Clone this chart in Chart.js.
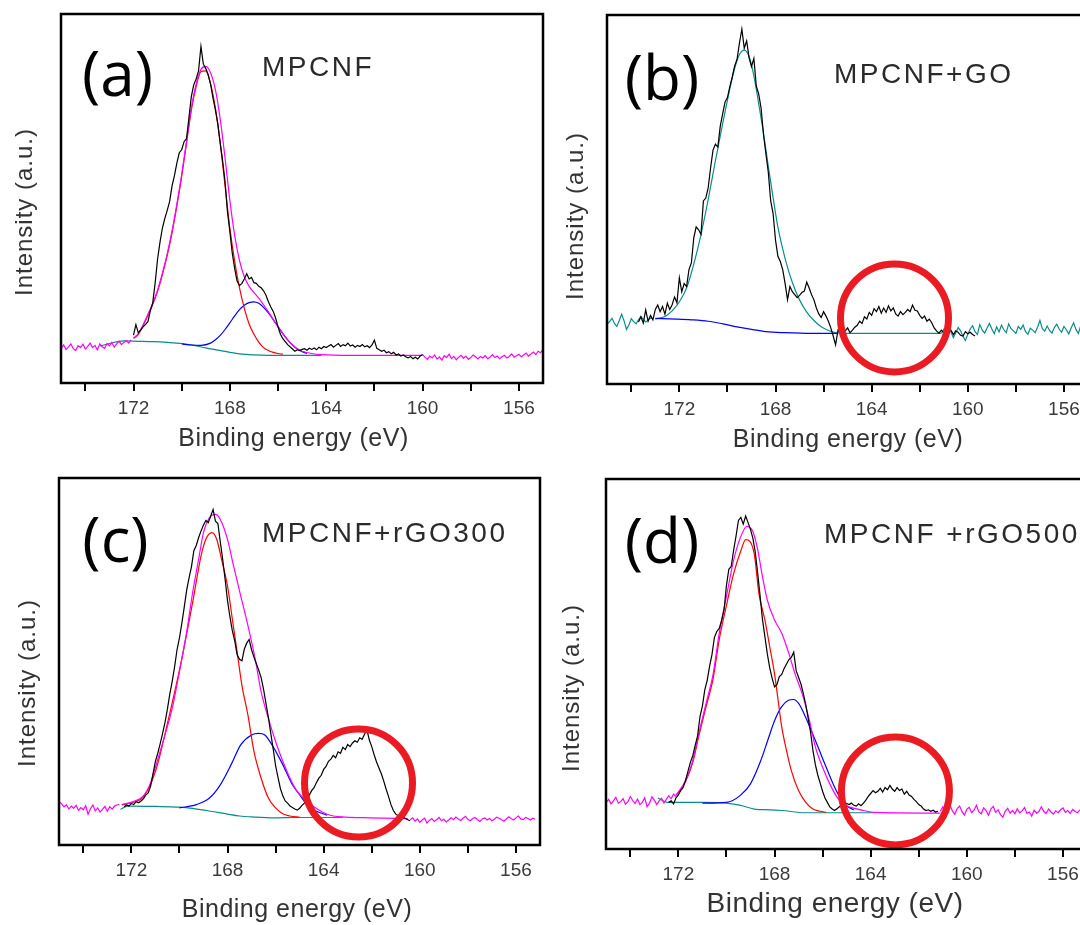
<!DOCTYPE html>
<html><head><meta charset="utf-8">
<script src="https://cdn.jsdelivr.net/npm/chart.js@4.4.1/dist/chart.umd.min.js"></script>
<style>
html,body{margin:0;padding:0;background:#fff;width:1080px;height:925px;overflow:hidden;position:relative}
canvas{position:absolute}
</style>
</head><body>
<canvas id="pa"></canvas><canvas id="pb"></canvas><canvas id="pc"></canvas><canvas id="pd"></canvas>
<script>
// ---------- DATA (binding energy in eV, intensity in a.u. 0-100 of the frame) ----------
const STEP = 0.1;
const xTickValuesLabelled = [172, 168, 164, 160, 156];

// Panel (a) MPCNF
const aBgLStart = 175.0;
const aBgL = [9.4,10.3,9.1,9.8,10.6,9.3,8.8,10.1,9.6,10.5,9.2,9.9,10.8,9.6,10.2,9.0,10.6,9.8,9.4,10.7,10.1,11.0,9.7,10.6,11.3,10.4,11.0,11.5,10.8,11.7];
const aRawStart = 172.0;
const aRaw = [13.0,15.8,13.6,14.4,15.2,15.9,16.6,19.6,21.8,27.2,
33.6,38.2,42.0,44.6,46.8,49.2,53.4,56.2,59.6,62.4,
63.2,65.4,66.2,71.8,77.6,80.8,82.4,84.6,91.2,86.4,
85.2,83.6,81.0,77.2,74.0,70.2,65.0,60.2,54.6,46.4,
41.0,35.2,31.0,27.6,26.4,27.0,28.2,29.6,28.2,28.6,
27.2,27.0,26.2,25.8,25.0,23.8,22.0,20.6,19.4,17.6,
15.2,13.2,12.0,11.2,10.4,9.8,9.2,8.6,9.0,8.8,
9.1,9.3,8.9,9.4,9.1,9.5,9.0,9.7,9.3,9.9,
9.6,10.0,10.4,9.7,10.2,10.7,9.9,10.4,10.1,10.8,
10.0,10.3,9.7,10.2,9.9,10.4,9.8,10.1,9.6,10.3,
11.6,9.4,9.0,8.6,8.9,8.2,8.5,7.9,8.3,7.6,
7.9,7.3,7.6,7.1,6.8,7.2,6.6,7.0,6.5,7.3,
7.7];
const aBgRStart = 160.0;
const aBgR = [7.7,7.0,6.4,7.3,6.8,7.6,6.5,7.1,6.2,7.4,6.9,7.8,6.6,7.2,6.3,7.0,7.5,6.7,7.3,6.4,6.9,7.6,7.1,6.5,7.2,6.8,7.4,6.6,7.0,7.7,6.9,7.3,6.6,7.1,7.5,6.8,7.2,7.9,7.0,7.4,7.8,7.1,7.6,8.1,7.3,7.9,8.4,7.7,8.6,8.2,9.1];
const aFitX = [172.0,171.8,171.6,171.4,171.2,171.0,170.8,170.6,170.4,170.2,170.0,169.8,169.6,169.4,169.2,169.0,168.8,168.6,168.4,168.2,168.0,167.8,167.6,167.4,167.2,167.0,166.8,166.6,166.4,166.2,166.0,165.8,165.6,165.4,165.2,165.0,164.6,164.2,163.0,160.0];
const aFitY = [12.2,13.4,15.8,18.6,21.6,25.2,29.8,35.0,41.2,48.5,56.5,65.5,74.5,81.0,85.0,85.8,84.0,79.5,71.5,61.0,49.5,40.0,33.2,28.8,26.2,24.5,23.0,21.2,19.3,17.2,15.2,13.3,11.7,10.3,9.3,8.6,8.0,7.7,7.5,7.5];
const aRedX = [172.0,171.8,171.6,171.4,171.2,171.0,170.8,170.6,170.4,170.2,170.0,169.8,169.6,169.4,169.2,169.0,168.8,168.6,168.4,168.2,168.0,167.8,167.6,167.4,167.2,167.0,166.8,166.6,166.4,166.2,166.0,165.8];
const aRedY = [12.1,13.2,15.6,18.3,21.3,24.9,29.4,34.6,40.7,48.0,56.0,65.0,73.9,80.3,84.4,84.6,81.0,74.5,65.0,53.5,42.0,33.0,25.8,20.3,16.0,13.2,11.1,9.6,8.8,8.3,8.0,7.8];
const aBlueX = [170.0,169.6,169.2,168.8,168.6,168.4,168.2,168.0,167.8,167.6,167.4,167.2,167.0,166.8,166.6,166.4,166.2,166.0,165.8,165.6,165.4,165.2,165.0,164.8];
const aBlueY = [10.6,10.3,10.2,10.8,11.7,12.9,14.5,16.3,18.2,19.9,21.1,21.8,22.0,21.6,20.5,19.0,17.2,15.3,13.4,11.7,10.3,9.2,8.5,8.0];
const aTealX = [173.4,173.0,172.4,171.8,171.2,170.6,170.0,169.5,169.0,168.5,168.0,167.5,167.0,166.4,165.6,164.8,164.2];
const aTealY = [10.0,10.7,11.4,11.3,11.2,11.0,10.7,10.2,9.5,8.9,8.3,7.8,7.6,7.5,7.5,7.5,7.5];

// Panel (b) MPCNF+GO
const bBgLStart = 175.0;
const bBgL = [16.2,17.0,17.8,16.4,15.6,17.2,18.9,17.1,14.8,16.0,17.7,16.9,16.3,17.4,18.3,17.5,16.8,17.3,17.9,17.6];
const bRawStart = 173.7;
const bRaw = [16.8,18.2,16.5,20.1,17.0,18.6,17.4,20.2,21.4,19.6,
21.0,18.9,21.9,20.2,21.5,23.6,22.0,28.8,25.0,27.2,
26.4,31.0,32.8,39.6,42.6,41.8,40.6,49.6,50.4,53.2,
58.6,63.4,65.0,64.2,69.8,73.2,76.4,77.6,80.6,83.2,
86.2,88.0,92.4,96.2,91.0,93.0,88.4,86.0,88.2,80.8,
78.6,74.8,67.6,62.4,57.4,49.6,46.2,39.0,34.6,33.2,
31.0,27.2,22.8,26.4,25.0,24.2,23.4,24.0,24.8,25.2,
27.6,26.0,24.2,22.8,20.6,19.0,18.0,19.6,18.4,17.0,
15.2,13.0,10.6,14.6,13.8,15.0,14.4,15.2,13.9,14.6,
15.4,15.9,17.0,16.4,18.2,17.6,19.4,18.6,20.4,19.6,
21.0,19.2,20.6,19.4,21.2,19.8,20.6,19.0,18.4,19.6,
18.8,19.4,20.2,19.6,21.4,20.0,19.8,18.6,17.8,18.4,
17.0,17.6,16.6,15.2,14.4,13.8,14.6,13.9,14.2,15.0,
14.6,13.4,14.4,14.0,13.2,13.0,14.2,13.6,14.0,13.4,
13.0];
const bBgRStart = 161.1;
const bBgR = [13.7,14.8,13.2,15.1,14.0,12.6,13.9,15.3,14.4,12.9,11.8,13.5,14.9,15.8,14.2,13.4,16.1,14.6,13.8,15.2,16.4,14.9,13.6,15.5,14.1,15.9,14.7,13.9,16.3,15.0,14.4,13.7,15.6,14.8,16.0,14.2,13.5,15.1,14.6,13.9,15.4,17.2,15.0,14.3,15.7,14.5,13.8,15.3,16.2,14.9,14.0,15.6,14.7,13.6,15.2,16.6,14.8,13.7,15.9,14.5,12.4,14.0];
const bFitX = [173.0,172.6,172.3,172.0,171.7,171.4,171.1,170.8,170.5,170.2,169.9,169.7,169.5,169.3,169.1,168.9,168.7,168.5,168.3,168.1,167.9,167.6,167.3,167.0,166.7,166.4,166.1,165.8,165.5,165.2,161.1];
const bFitY = [17.6,18.3,19.8,22.3,26.0,32.5,40.5,50.0,60.5,70.5,80.0,85.5,89.3,90.5,88.8,83.5,76.0,68.0,59.0,50.5,42.5,34.0,27.5,22.8,19.5,17.2,15.5,14.5,13.9,13.7,13.7];
const bBlueX = [173.0,172.1,171.5,170.8,170.2,169.6,169.0,168.4,167.6,166.5,165.4];
const bBlueY = [17.8,17.6,17.4,17.0,16.3,15.5,14.8,14.2,13.9,13.7,13.7];
const bCircle = [163.05, 17.9];

// Panel (c) MPCNF+rGO300
const cBgLStart = 175.0;
const cBgL = [11.8,11.2,10.4,10.9,9.8,10.6,10.0,10.8,9.4,10.2,9.6,10.7,8.4,9.9,10.9,9.3,10.1,9.0,9.7,10.5,9.2,10.4,9.8,10.6,10.9,11.1];
const cRawStart = 172.3;
const cRaw = [10.4,10.9,10.6,11.3,11.0,11.8,11.5,12.0,12.6,13.6,
14.2,16.0,19.4,22.8,25.0,27.6,30.4,33.4,37.0,41.2,
44.6,48.6,53.2,56.4,60.4,64.8,69.4,72.8,75.8,80.2,
81.6,83.8,85.6,87.2,88.4,87.8,89.6,91.4,88.2,87.6,
82.6,77.8,72.4,66.6,62.2,58.4,55.6,51.8,50.6,50.2,
53.4,55.0,56.0,53.2,51.2,49.4,47.6,45.6,42.4,38.6,
34.8,30.4,26.2,21.6,18.4,15.4,13.4,12.0,11.4,10.6,
10.2,9.8,9.5,10.0,10.8,11.4,12.4,13.6,14.8,15.6,
17.0,18.2,19.0,20.6,21.4,22.8,23.4,24.4,23.8,25.4,
25.0,26.6,26.0,27.4,26.8,27.8,28.4,28.0,29.2,28.8,
30.2,31.4,28.6,26.8,24.6,22.6,21.0,19.4,17.4,15.2,
13.2,11.0,9.4,8.4,8.0,7.6,7.8,7.2,6.9,6.6];
const cBgRStart = 160.4;
const cBgR = [6.9,7.4,6.5,7.1,6.2,6.8,7.3,6.0,6.7,7.2,6.4,6.9,7.5,6.6,7.0,6.3,6.8,7.4,6.9,7.6,7.1,6.7,7.3,7.8,7.0,6.6,7.2,7.5,6.9,6.4,7.1,7.4,6.8,7.2,6.6,7.0,7.6,7.3,6.9,6.5,7.1,7.7,7.2,6.8,7.4,7.9,7.1,6.9,7.5,7.2,6.8,7.3,7.0];
const cFitX = [172.4,171.9,171.5,171.2,170.9,170.6,170.3,170.0,169.7,169.45,169.2,169.0,168.75,168.5,168.3,168.0,167.75,167.45,167.15,166.85,166.6,166.3,166.0,165.7,165.4,165.15,164.85,164.45,164.0,163.6,163.1,162.1,160.5];
const cFitY = [11.0,11.9,13.4,17.0,23.4,30.0,37.2,47.2,58.0,68.8,77.9,85.1,89.2,90.1,88.7,83.3,76.1,67.9,59.8,50.8,41.7,34.5,28.2,22.8,18.2,15.1,12.8,10.6,8.8,7.9,7.6,7.4,7.2];
const cRedX = [172.4,171.9,171.5,171.0,170.45,169.9,169.45,169.1,168.9,168.65,168.45,168.25,168.0,167.8,167.6,167.4,167.15,166.9,166.6,166.3,166.0,165.7,165.4,165.0];
const cRedY = [10.9,11.7,13.1,20.0,34.5,50.8,66.1,78.8,83.3,85.1,83.3,77.9,70.6,61.6,52.6,43.5,35.4,25.5,18.2,12.8,10.1,8.5,7.9,7.6];
const cBlueX = [170.0,169.3,168.75,168.3,167.85,167.45,167.0,166.7,166.45,166.15,165.7,165.3,165.0,164.7,164.3,163.85];
const cBlueY = [10.1,11.0,12.8,16.4,21.9,27.3,30.0,30.4,30.0,27.3,21.9,16.4,13.7,11.0,9.2,8.1];
const cTealX = [172.45,172.15,171.0,170.0,169.4,168.7,168.0,167.5,166.8,166.2,165.0,163.2];
const cTealY = [9.7,10.6,10.5,10.3,9.9,9.2,8.4,7.9,7.6,7.4,7.5,7.5];
const cCircle = [162.55, 16.9];

// Panel (d) MPCNF +rGO500
const dBgLStart = 175.0;
const dBgL = [12.6,13.4,12.2,13.0,14.0,12.4,12.8,13.6,12.1,12.7,14.2,13.1,12.3,13.5,12.0,12.6,13.8,11.4,12.4,14.1,13.2,12.0,13.0,13.7,12.5,13.4,14.4,13.6,14.8,14.2];
const dRawStart = 172.4;
const dRaw = [12.6,13.0,12.2,13.8,14.6,15.8,16.6,18.6,21.0,23.4,
25.2,28.0,30.6,35.8,38.6,43.0,45.6,49.4,52.6,57.2,
58.8,59.6,61.8,64.6,71.2,75.6,76.4,80.8,84.6,88.8,
89.6,87.8,90.0,88.2,86.4,84.0,80.2,74.6,68.4,62.0,
57.4,52.8,49.0,46.2,43.8,44.4,46.6,47.2,48.8,50.0,
51.2,51.8,53.2,48.2,46.4,44.6,42.0,39.0,35.4,31.6,
26.6,22.8,20.0,17.8,15.6,13.8,12.6,11.4,10.8,10.4,
10.9,11.4,12.0,12.6,12.3,12.0,12.4,11.8,11.6,12.2,
11.7,12.4,13.2,14.2,15.0,15.8,15.2,15.6,16.4,15.4,
16.6,16.0,17.2,16.2,15.6,16.6,15.8,16.2,14.8,15.6,
14.6,14.2,13.4,12.8,12.0,11.6,10.8,10.4,10.6,10.2,
10.5,10.0,10.2];
const dBgRStart = 161.1;
const dBgR = [10.2,11.4,9.6,10.8,11.9,10.3,9.4,10.9,11.6,10.1,9.2,10.7,11.3,9.8,10.5,11.8,10.0,9.5,11.1,10.4,9.1,10.8,11.5,9.9,10.6,9.3,8.6,10.2,11.0,9.7,10.4,9.5,10.9,9.8,10.3,11.2,9.6,10.0,8.9,10.5,9.7,10.1,11.4,10.2,9.6,10.8,10.0,9.4,10.3,9.8,10.6,11.1,9.9,10.4,9.6,10.7,10.2,9.8,10.5,11.0,10.3,9.9];
const dFitX = [172.1,172.0,171.7,171.4,171.15,170.85,170.55,170.3,170.0,169.7,169.4,169.15,168.9,168.7,168.5,168.3,168.0,167.7,167.4,167.15,166.85,166.55,166.3,166.0,165.7,165.4,165.15,164.85,164.3,163.8,161.1];
const dFitY = [14.6,15.4,18.5,23.9,31.2,39.3,47.4,58.3,68.2,78.1,84.5,87.2,85.8,80.9,73.6,67.3,61.9,58.3,52.8,47.4,42.0,34.8,27.6,22.1,17.6,14.0,12.2,11.3,10.4,9.9,9.7];
const dRedX = [172.1,172.0,171.7,171.4,171.15,170.85,170.55,170.3,170.0,169.7,169.4,169.2,168.85,168.65,168.4,168.2,168.0,167.85,167.7,167.5,167.3,167.0,166.7,166.4,166.1,165.85];
const dRedY = [14.5,15.2,18.2,23.4,30.5,38.4,46.2,56.6,65.8,74.4,80.6,83.6,80.0,69.1,61.9,54.7,47.4,40.2,33.0,26.6,21.2,15.8,12.6,10.8,10.2,9.9];
const dBlueX = [171.0,170.0,169.42,169.0,168.57,168.28,167.99,167.71,167.42,167.21,166.99,166.71,166.42,166.13,165.85,165.56,165.28,165.0,164.7];
const dBlueY = [12.4,12.6,14.5,17.6,23.9,29.4,34.8,38.4,40.2,40.4,39.3,35.7,31.2,26.6,22.1,17.6,14.0,11.7,10.6];
const dTealX = [172.85,172.45,171.0,170.0,169.4,168.85,168.2,167.7,166.7,165.4,163.8];
const dTealY = [13.8,12.6,12.6,12.4,11.8,10.8,10.6,10.4,9.8,9.8,9.8];
const dCircle = [162.97, 15.7];

// ---------- helpers ----------
const seq = (start, vals) => vals.map((v, i) => ({x: Math.round((start - i * STEP) * 100) / 100, y: v}));
const pairs = (xs, ys) => xs.map((x, i) => ({x: x, y: ys[i]}));

const C = {black:'#000000', mag:'#ff00ff', red:'#ff0000', blue:'#0000ff', teal:'#0b8c8c', ring:'#ea1b22'};
function ln(data, color, smooth) {
  const d = {data, showLine:true, borderColor:color, backgroundColor:color, borderWidth:1.2, pointRadius:0, pointHoverRadius:0, fill:false, tension:0};
  if (smooth) d.cubicInterpolationMode = 'monotone';
  return d;
}
function ring(c) {
  return {data:[{x:c[0], y:c[1]}], showLine:false, pointRadius:54, pointHoverRadius:54, pointBorderWidth:7, pointHoverBorderWidth:7,
          pointBorderColor:C.ring, pointBackgroundColor:'rgba(0,0,0,0)', borderColor:C.ring, backgroundColor:'rgba(0,0,0,0)', clip:false};
}

const decoPlugin = {
  id: 'deco',
  afterDraw(chart, args, o) {
    const ctx = chart.ctx, ca = chart.chartArea;
    const ox = o.ox, oy = o.oy;
    ctx.save();
    ctx.strokeStyle = '#000'; ctx.lineWidth = 2.5;
    ctx.strokeRect(ca.left, ca.top, ca.right - ca.left, ca.bottom - ca.top);
    ctx.textBaseline = 'alphabetic';
    // panel letter
    ctx.fillStyle = '#000'; ctx.font = '62px "Open Sans"'; ctx.textAlign = 'center';
    ctx.fillText(o.label, o.labelPos[0] - ox, o.labelPos[1] - oy);
    // sample name
    ctx.fillStyle = '#2a2a2a'; ctx.font = '28px "Liberation Sans", Arial'; ctx.textAlign = 'left';
    ctx.letterSpacing = '2.5px';
    ctx.fillText(o.name, o.namePos[0] - ox, o.namePos[1] - oy);
    // x title
    ctx.fillStyle = '#333'; ctx.font = o.xTitleSize + 'px "Liberation Sans", Arial'; ctx.textAlign = 'center';
    ctx.letterSpacing = '0.5px';
    ctx.fillText(o.xTitle, o.xTitlePos[0] - ox, o.xTitlePos[1] - oy);
    // y title
    ctx.translate(o.yTitlePos[0] - ox, o.yTitlePos[1] - oy);
    ctx.rotate(-Math.PI / 2);
    ctx.font = '24px "Liberation Sans", Arial'; ctx.letterSpacing = '1px';
    ctx.fillText(o.yTitle, 0, 6);
    ctx.restore();
  }
};

function makePanel(id, frame, datasets, deco) {
  // top/right padding is larger than the ring marker overflow so the plot area keeps its size
  const PL = 60, PT = 64, PR = 64, PB = 80;
  const cv = document.getElementById(id);
  const W = PL + (frame.r - frame.l) + PR, H = PT + (frame.b - frame.t) + PB;
  const ox = frame.l - PL, oy = frame.t - PT;
  cv.width = W; cv.height = H;
  cv.style.width = W + 'px'; cv.style.height = H + 'px';
  cv.style.left = ox + 'px'; cv.style.top = oy + 'px';
  deco.ox = ox; deco.oy = oy;
  new Chart(cv, {
    type: 'scatter',
    data: {datasets},
    plugins: [decoPlugin],
    options: {
      responsive: false, animation: false, devicePixelRatio: 1, events: [],
      layout: {padding: {left: 0, top: PT, right: PR, bottom: 0}},
      plugins: {legend: {display: false}, tooltip: {enabled: false}, deco: deco},
      scales: {
        x: {
          type: 'linear', min: 155, max: 175.01, reverse: true, position: 'bottom',
          afterFit: s => { s.height = PB; },
          border: {display: false},
          grid: {display: true, drawOnChartArea: false, drawTicks: true, tickLength: 8, color: '#000', lineWidth: 2},
          ticks: {
            stepSize: 2, includeBounds: false, autoSkip: false, maxRotation: 0, minRotation: 0, padding: 6,
            color: '#3a3a3a', font: {family: '"Liberation Sans", Arial', size: 19},
            callback: v => xTickValuesLabelled.includes(v) ? String(v) : ''
          }
        },
        y: {
          type: 'linear', min: 0, max: 100, position: 'left',
          afterFit: s => { s.width = PL; },
          border: {display: false}, grid: {display: false}, ticks: {display: false}
        }
      }
    }
  });
}

const XT = 'Binding energy (eV)', YT = 'Intensity (a.u.)';

makePanel('pa', {l:61, t:14, r:543, b:383}, [
  ln(seq(aRawStart, aRaw), C.black),
  ln(seq(aBgLStart, aBgL), C.mag),
  ln(pairs(aFitX, aFitY), C.mag, true),
  ln(seq(aBgRStart, aBgR), C.mag),
  ln(pairs(aRedX, aRedY), C.red, true),
  ln(pairs(aBlueX, aBlueY), C.blue, true),
  ln(pairs(aTealX, aTealY), C.teal, true)
], {label:'(a)', labelPos:[117.5, 96], name:'MPCNF', namePos:[262, 76], xTitle:XT, xTitlePos:[293.5, 446], xTitleSize:25, yTitle:YT, yTitlePos:[26, 212]});

makePanel('pb', {l:606, t:15, r:1088, b:384}, [
  ring(bCircle),
  ln(seq(bRawStart, bRaw), C.black),
  ln(pairs(bBlueX, bBlueY), C.blue, true),
  ln(seq(bBgLStart, bBgL), C.teal),
  ln(pairs(bFitX, bFitY), C.teal, true),
  ln(seq(bBgRStart, bBgR), C.teal)
], {label:'(b)', labelPos:[662, 100], name:'MPCNF+GO', namePos:[834, 83], xTitle:XT, xTitlePos:[848, 447], xTitleSize:25, yTitle:YT, yTitlePos:[577, 216]});

makePanel('pc', {l:58, t:478, r:540, b:845}, [
  ring(cCircle),
  ln(seq(cRawStart, cRaw), C.black),
  ln(seq(cBgLStart, cBgL), C.mag),
  ln(pairs(cFitX, cFitY), C.mag, true),
  ln(seq(cBgRStart, cBgR), C.mag),
  ln(pairs(cRedX, cRedY), C.red, true),
  ln(pairs(cBlueX, cBlueY), C.blue, true),
  ln(pairs(cTealX, cTealY), C.teal, true)
], {label:'(c)', labelPos:[115.5, 562], name:'MPCNF+rGO300', namePos:[262, 542], xTitle:XT, xTitlePos:[297, 917], xTitleSize:25, yTitle:YT, yTitlePos:[29, 683]});

makePanel('pd', {l:605, t:479, r:1087, b:849}, [
  ring(dCircle),
  ln(seq(dRawStart, dRaw), C.black),
  ln(seq(dBgLStart, dBgL), C.mag),
  ln(pairs(dFitX, dFitY), C.mag, true),
  ln(seq(dBgRStart, dBgR), C.mag),
  ln(pairs(dRedX, dRedY), C.red, true),
  ln(pairs(dBlueX, dBlueY), C.blue, true),
  ln(pairs(dTealX, dTealY), C.teal, true)
], {label:'(d)', labelPos:[662, 563], name:'MPCNF +rGO500', namePos:[824, 543], xTitle:XT, xTitlePos:[835, 912], xTitleSize:28, yTitle:YT, yTitlePos:[573, 688]});
</script>
</body></html>
